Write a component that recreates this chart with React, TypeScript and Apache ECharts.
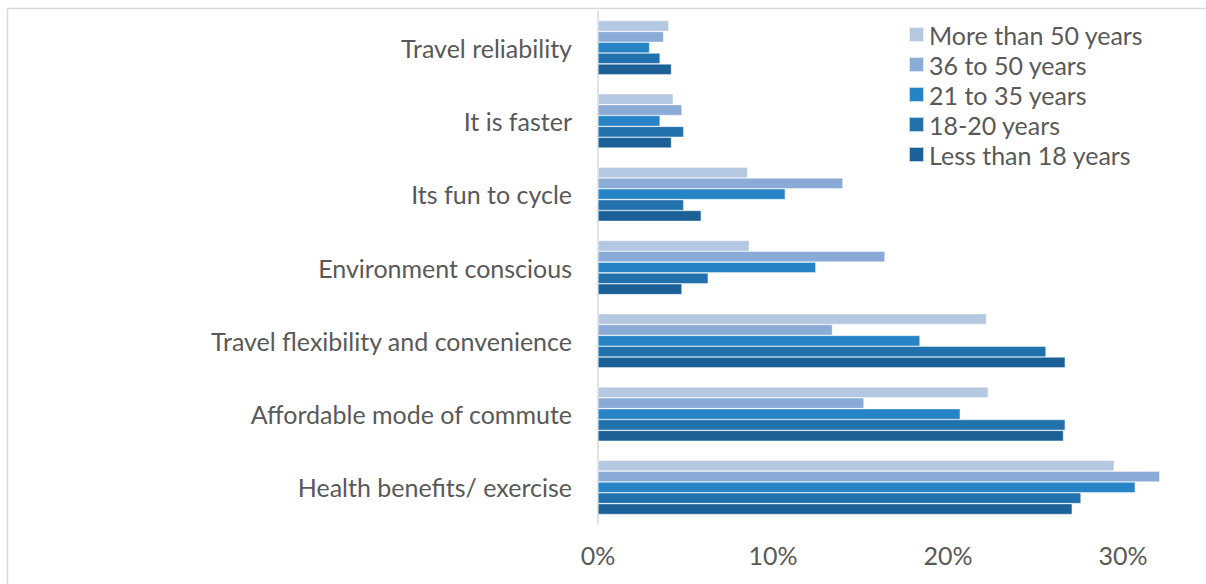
import React, { useEffect, useRef } from "react";
import * as echarts from "echarts";

// categories, bottom to top
const categories = [
  "Health benefits/ exercise",
  "Affordable mode of commute",
  "Travel flexibility and convenience",
  "Environment conscious",
  "Its fun to cycle",
  "It is faster",
  "Travel reliability",
];

const seriesNames = [
  "More than 50 years",
  "36 to 50 years",
  "21 to 35 years",
  "18-20 years",
  "Less than 18 years",
];

const moreThan50 = [29.5, 22.3, 22.2, 8.65, 8.55, 4.3, 4.05];
const from36to50 = [32.1, 15.2, 13.4, 16.4, 14.0, 4.8, 3.75];
const from21to35 = [30.7, 20.7, 18.4, 12.45, 10.7, 3.55, 2.95];
const from18to20 = [27.6, 26.7, 25.6, 6.3, 4.9, 4.9, 3.55];
const lessThan18 = [27.1, 26.6, 26.7, 4.8, 5.9, 4.2, 4.2];

const seriesValues = [moreThan50, from36to50, from21to35, from18to20, lessThan18];
const seriesColors = ["#b4c8e2", "#8aabd6", "#2683c6", "#2171ad", "#1b6096"];

const xTicks = [0, 10, 20, 30];
const xMax = 34;

export default function App() {
  const ref = useRef<HTMLDivElement>(null);
  useEffect(() => {
    if (!ref.current) return;
    const chart = echarts.init(ref.current, undefined, { renderer: "svg" });
    const font = "Lato, 'Open Sans', sans-serif";
    chart.setOption({
      animation: false,
      backgroundColor: "#ffffff",
      textStyle: { fontFamily: font },
      grid: { left: 598, top: 11, width: 595, height: 513, containLabel: false },
      legend: {
        orient: "vertical",
        left: 908,
        top: 22,
        padding: 0,
        itemWidth: 15,
        itemHeight: 15,
        itemGap: 5,
        icon: "rect",
        data: seriesNames,
        textStyle: { color: "#595959", fontSize: 25, fontFamily: font },
      },
      xAxis: {
        type: "value",
        min: 0,
        max: xMax,
        interval: 10,
        axisLine: { show: false },
        axisTick: { show: false },
        splitLine: { show: false },
        axisLabel: {
          color: "#595959",
          fontSize: 25,
          fontFamily: font,
          margin: 18,
          showMaxLabel: false,
          formatter: (v: number) => (xTicks.includes(v) ? v + "%" : ""),
        },
      },
      yAxis: {
        type: "category",
        data: categories,
        axisLine: { show: true, lineStyle: { color: "#d9d9d9", width: 1.5 } },
        axisTick: { show: false },
        axisLabel: { color: "#595959", fontSize: 25, fontFamily: font, margin: 26 },
      },
      series: seriesNames.map((name, i) => ({
        name,
        type: "bar",
        data: seriesValues[i],
        barGap: "0%",
        barCategoryGap: "26%",
        itemStyle: { color: seriesColors[i], borderColor: "rgba(255,255,255,0.7)", borderWidth: 0.6 },
      })),
      graphic: [
        { type: "line", shape: { x1: 7.5, y1: 8.5, x2: 1220, y2: 8.5 }, style: { stroke: "#d9d9d9", lineWidth: 1.5 } },
        { type: "line", shape: { x1: 7.5, y1: 8.5, x2: 7.5, y2: 600 }, style: { stroke: "#d9d9d9", lineWidth: 1.5 } },
      ],
    });
    return () => chart.dispose();
  }, []);
  return (
    <div
      ref={ref}
      style={{ position: "fixed", left: 0, top: 0, width: 1206, height: 584 }}
    />
  );
}
